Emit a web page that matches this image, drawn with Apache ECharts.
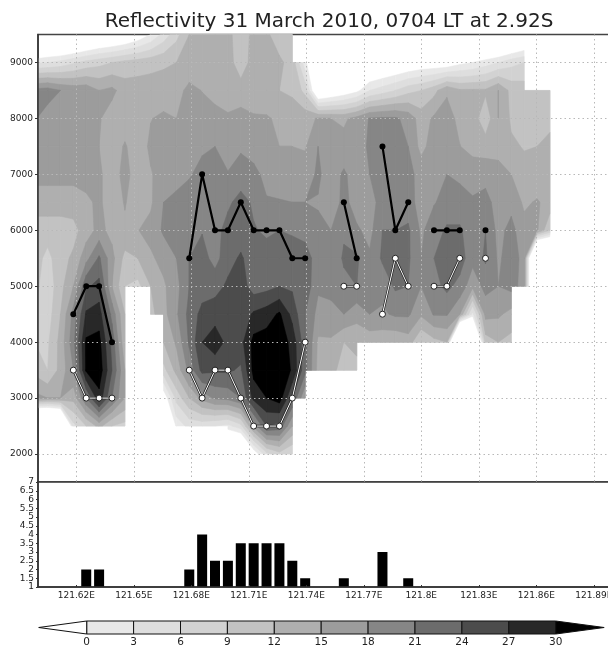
<!DOCTYPE html>
<html><head><meta charset="utf-8">
<style>html,body{margin:0;padding:0;background:#fff}#c{width:608px;height:653px}</style>
<script src="https://cdn.jsdelivr.net/npm/echarts@6/dist/echarts.min.js"></script>
</head><body><div id="c"></div>
<script>
const titleText = 'Reflectivity 31 March 2010, 0704 LT at 2.92S';
const columnLons = [121.59828,121.6050,121.61172,
 121.61844,121.62516,121.63188,121.6386,121.64532,121.65204,121.65876,121.66548,121.6722,121.67892,
 121.68564,121.69236,121.69908,121.7058,121.71252,121.71924,121.72596,121.73268,121.7394,121.74612,
 121.75284,121.75956,121.76628,121.773,121.77972,121.78644,121.79316,121.79988,121.8066,121.81332,
 121.82004,121.82676,121.83348,121.8402,121.84692,121.85364,121.86036,121.86708];
const heights = [2000,2500,3000,3500,4000,4500,5000,5500,6000,6500,7000,7500,8000,8500,9000,9500];
const n = null;
const z9500 = [-17,-13,-13, -12,-10,-8,-7,-5.5,-3,0,4,8,12, 13,13,13,10,13,12.5,10.5,10,n,n, n,n,-10,-10,-10,-10,-10,-10,-10,-10, -10,-10,-14,-13,-11,-8,n,n];
const z9000 = [2.5,3,4, 5.5,7,8,9,10,10.5,11,11.5,12,12.5, 13.5,13.5,13.5,10,13.5,13.5,12.5,11,1,-8, -8,-8,-8,-7,-6,-5,-4,-3,-3,-3, -1,0,1.5,3,5,6,n,n];
const z8500 = [19,19.5,18, 17,17,15,15.8,13.5,13.5,13.5,13.5,13.7,16, 14.9,13.5,13.5,13.5,13,13,12,11.5,8,-7, -5,-3,-1,3,4.5,6,8,9,11,14.5, 12.5,12.5,12.5,15,11,10.5,10,11];
const z8000 = [18.3,16.5,16.5, 16.5,16.5,15.3,13.5,13.5,13.5,14.9,15.5,15,16.5, 16.5,16.5,15.4,16,15.4,15.3,14.5,13.5,13.8,15.3, 15,14.5,16,18.2,18.5,18.5,17,13.5,15.5,16.5, 14,13.5,10,15,11.5,10.5,10.5,11.5];
const z7500 = [16.5,16.5,16.5, 16.5,16.5,15,13.5,15.3,13.5,15.5,16.5,16.5,16.7, 17.5,18,16.5,17.5,16.5,15.8,15,15,14.7,18, 16,16,16.5,18.5,19,19,18,14,16.5,16.5, 15.1,13.8,13.5,13.5,12.5,11.8,12,12.5];
const z7000 = [16,16,16, 16,16,15.5,13.5,16,13.5,14.8,16,17,17.7, 19,19.5,18.2,19.5,19,17,16.5,16.5,16.5,18.5, 16.5,18.5,16.5,18,19.5,20,19,16.8,17.5,18, 17.5,17,17,16.5,15,13,13,13.5];
const z6500 = [13.5,13.5,13.5, 13.5,14.5,15.5,13.5,15.2,13.5,14.5,18,18.7,19.5, 20,19.5,20.5,22,20.6,18.3,18.2,18,18,17.8, 15.8,19,16.5,16.5,19.5,20,19.5,16.5,17.8,19, 19,18.3,19,16.8,17,14.5,15.3,14];
const z6000 = [10.5,10.5,10.5, 11,13.5,16,14,14.5,14.9,16,18.5,19.5,20, 20.8,20,22,22.5,21.2,20.6,21,20.5,19.5,18.5, 18,20.5,18.5,17,21,21,21.5,17.5,19.5,21.5, 21.5,19,21,17,19,16,15.5,9];
const z5500 = [10.5,8,11, 12.5,17,21.5,16,11,12,14.5,16,18,21, 22.3,19.8,23,24.4,22.5,22,23,23,23,19, 18.5,21.5,21.5,18.5,21.5,22.5,21.5,18,21,22.5, 22.5,19,21.5,17.5,19.5,17,-30,-30];
const z5000 = [10,7,11, 15,23.5,25,15,9,8,12,14.5,17,21, 22.5,23,24.5,25.5,22.5,23,24,23.5,23,18.5, 18.5,20,21,18.5,19,21.5,21,18,20,21.8, 20,16,19,18,19,17,-30,-30];
const z4500 = [9,7.5,12, 19,27.5,28.5,20,12,n,11,14,17.5,22, 25,25.5,25.5,25,27.5,28.5,30.5,26,21,17, 17.5,18,16,18,17.5,18.5,18.5,15.5,18.3,18.3, 15,2,16,15.5,14,n,n,n];
const z4000 = [9,8.5,13, 20,30.5,31,23,12.5,n,n,12,15.5,21.5, 27,29,26,26,31,31.5,32,29,22,14.5, 14.5,12,13,13,13,12.5,13.5,9,11,12, -40,-25,10.5,12,11,n,n,n];
const z3500 = [11,9,13, 18,30.5,32,24,15,n,n,8,13,19, 25,24.5,24.5,23.5,31,33,33,29.5,22,14, 13.5,10,11,n,n,n,n,n,n,n, n,n,n,n,n,n,n,n];
const z3000 = [16,15,15, 13,21,29,21,15,n,n,-3,7,12, 16,18.5,19,21,28,30,31.5,24,15,n, n,n,n,n,n,n,n,n,n,n, n,n,n,n,n,n,n,n];
const z2500 = [-30,-30,-25, 5,9,13,9,8,n,n,-20,1,4, 4,3,2,5,16,24,23,15,n,n, n,n,n,n,n,n,n,n,n,n, n,n,n,n,n,n,n,n];
const z2000 = [n,n,n, n,n,n,n,n,n,n,n,n,n, n,n,-15,-15,-3,5,8,6,n,n, n,n,n,n,n,n,n,n,n,n, n,n,n,n,n,n,n,n];
const reflectivity = [z2000,z2500,z3000,z3500,z4000,z4500,z5000,z5500,z6000,z6500,z7000,z7500,z8000,z8500,z9000,z9500];

const levels = [0,3,6,9,12,15,18,21,24,27,30];
const levelGrays = ['#e8e8e8','#dedede','#d2d2d2','#c2c2c2','#afafaf','#9c9c9c','#868686','#6c6c6c','#4c4c4c','#282828','#000000'];

const topTrack = [[121.61844,4500],[121.62516,5000],[121.63188,5000],[121.6386,4000],[n,n],
 [121.67892,5500],[121.68564,7000],[121.69236,6000],[121.69908,6000],[121.7058,6500],[121.71252,6000],[121.71924,6000],[121.72596,6000],[121.73268,5500],[121.7394,5500],[n,n],
 [121.75956,6500],[121.76628,5500],[n,n],
 [121.77972,7500],[121.78644,6000],[121.79316,6500],[n,n],
 [121.8066,6000],[121.81332,6000],[121.82004,6000],[n,n],[121.83348,6000]];
const baseTrack = [[121.61844,3500],[121.62516,3000],[121.63188,3000],[121.6386,3000],[n,n],
 [121.67892,3500],[121.68564,3000],[121.69236,3500],[121.69908,3500],[121.7058,3000],[121.71252,2500],[121.71924,2500],[121.72596,2500],[121.73268,3000],[121.7394,4000],[n,n],
 [121.75956,5000],[121.76628,5000],[n,n],
 [121.77972,4500],[121.78644,5500],[121.79316,5000],[n,n],
 [121.8066,5000],[121.81332,5000],[121.82004,5500],[n,n],[121.83348,5500]];
const barValues = [[121.62516,2],[121.63188,2],[121.67892,2],[121.68564,4],[121.69236,2.5],[121.69908,2.5],[121.7058,3.5],[121.71252,3.5],[121.71924,3.5],[121.72596,3.5],[121.73268,2.5],[121.7394,1.5],[121.75956,1.5],[121.77972,3],[121.79316,1.5]];
const lonTicks = [121.62,121.65,121.68,121.71,121.74,121.77,121.8,121.83,121.86,121.89];
const heightTicks = [2000,3000,4000,5000,6000,7000,8000,9000];
const countLabelsMain = [1,2,2.5,3,3.5,4,4.5,5,5.5,6,7];
const countLabelsExtra = [1.5,6.5];
const lonMin = 121.6, lonMax = 121.9;

const TXT = '#222';
const FONT = '"DejaVu Sans"';

function clipCell(corners, level){
  const out = [];
  for (let k=0;k<4;k++){
    const a = corners[k], b = corners[(k+1)%4];
    if (a[2] >= level) out.push([a[0],a[1]]);
    if ((a[2] >= level) !== (b[2] >= level)){
      const t = (level-a[2])/(b[2]-a[2]);
      out.push([a[0]+t*(b[0]-a[0]), a[1]+t*(b[1]-a[1])]);
    }
  }
  return out;
}
const contourPolys = [];
levels.forEach((lv,li)=>{
  for (let r=0;r<heights.length-1;r++) for (let c=0;c<columnLons.length-1;c++){
    const v=[reflectivity[r][c],reflectivity[r][c+1],reflectivity[r+1][c+1],reflectivity[r+1][c]];
    if (v.some(x=>x===null)) continue;
    const corners=[[columnLons[c],heights[r],v[0]],[columnLons[c+1],heights[r],v[1]],[columnLons[c+1],heights[r+1],v[2]],[columnLons[c],heights[r+1],v[3]]];
    const p=clipCell(corners,lv);
    if (p.length>2) contourPolys.push({li,p});
  }
});

const gridLine = {show:true,lineStyle:{color:'#b8b8b8',width:1,type:[1.5,3]}};
const dark = {lineStyle:{color:'#333',width:1.5}};
const noBounds = {outerBoundsMode:'none'};

const option = {
  animation:false,
  backgroundColor:'#fff',
  title:{text:titleText,left:324,top:7,textAlign:'center',textStyle:{fontFamily:FONT,fontSize:20,fontWeight:'normal',color:'#222'}},
  grid:[
    {left:38,top:34.5,width:575,height:447.5,show:true,borderColor:'#444',borderWidth:1.5,backgroundColor:'#fff',...noBounds},
    {left:38,top:482,width:575,height:105,show:true,borderColor:'#333',borderWidth:1.5,backgroundColor:'#fff',...noBounds},
    {left:86.7,top:621,width:469,height:13,...noBounds}
  ],
  xAxis:[
    {type:'value',gridIndex:0,min:lonMin,max:lonMax,z:5,axisLine:{show:false},
      axisTick:{show:false,customValues:lonTicks},axisLabel:{show:false,customValues:lonTicks},splitLine:gridLine},
    {type:'value',gridIndex:1,min:lonMin,max:lonMax,z:5,axisLine:{show:true,...dark},splitLine:{show:false},
      axisTick:{show:true,inside:true,length:2,customValues:lonTicks,lineStyle:{color:'#333'}},
      axisLabel:{show:true,customValues:lonTicks,margin:4,hideOverlap:false,fontFamily:FONT,fontSize:9,color:TXT,formatter:v=>v+'E'}},
    {type:'value',gridIndex:2,min:0,max:30,interval:3,axisLine:{show:false},axisTick:{show:false},splitLine:{show:false},
      axisLabel:{show:true,margin:3,fontFamily:FONT,fontSize:10.5,color:TXT}}
  ],
  yAxis:[
    {type:'value',gridIndex:0,min:1500,max:9500,z:5,axisLine:{show:true,...dark},
      axisTick:{show:true,length:3,customValues:heightTicks,lineStyle:{color:'#333'}},
      axisLabel:{show:true,customValues:heightTicks,margin:5,fontFamily:FONT,fontSize:9,color:TXT,formatter:v=>String(v)},splitLine:gridLine},
    {type:'value',gridIndex:1,min:1,max:7,interval:0.5,z:5,axisLine:{show:true,...dark},splitLine:{show:false},
      axisTick:{show:true,length:2,lineStyle:{color:'#333'}},
      axisLabel:{show:true,customValues:countLabelsMain,margin:4,hideOverlap:false,fontFamily:FONT,fontSize:9,color:TXT,formatter:v=>String(v)}},
    {type:'value',gridIndex:2,min:0,max:1,show:false},
    {type:'value',gridIndex:1,min:1,max:7,z:5,position:'left',axisLine:{show:false},axisTick:{show:false},splitLine:{show:false},
      axisLabel:{show:true,customValues:countLabelsExtra,margin:4,hideOverlap:false,fontFamily:FONT,fontSize:9,color:TXT,formatter:v=>String(v)}}
  ],
  series:[
    {type:'custom',xAxisIndex:0,yAxisIndex:0,z:2,silent:true,clip:true,progressive:0,
      data:contourPolys.map((q,i)=>[q.p[0][0],q.p[0][1],i]),encode:{x:0,y:1},
      renderItem(params,api){
        const q=contourPolys[api.value(2)];
        const col=levelGrays[q.li];
        return {type:'polygon',shape:{points:q.p.map(pt=>api.coord(pt))},style:{fill:col,stroke:col,lineWidth:0.5}};
      }},
    {type:'line',name:'Top',xAxisIndex:0,yAxisIndex:0,z:10,data:topTrack,connectNulls:false,symbol:'circle',symbolSize:6,silent:true,
      lineStyle:{color:'#000',width:2.2},itemStyle:{color:'#000'}},
    {type:'line',name:'Base edge',xAxisIndex:0,yAxisIndex:0,z:10,data:baseTrack,connectNulls:false,symbol:'none',silent:true,
      lineStyle:{color:'#222',width:2.4}},
    {type:'line',name:'Base',xAxisIndex:0,yAxisIndex:0,z:11,data:baseTrack,connectNulls:false,symbol:'circle',symbolSize:6,silent:true,
      lineStyle:{color:'#fff',width:1},itemStyle:{color:'#fff',borderColor:'#222',borderWidth:1}},
    {type:'bar',xAxisIndex:1,yAxisIndex:1,data:barValues,barWidth:10,silent:true,itemStyle:{color:'#000'}},
    {type:'custom',xAxisIndex:2,yAxisIndex:2,clip:false,silent:true,z:3,
      data:levels.slice(0,-1).map((lv,i)=>[lv,levels[i+1],i]),encode:{x:[0,1]},
      renderItem(params,api){
        const a=api.coord([api.value(0),0]),b=api.coord([api.value(1),1]);
        return {type:'rect',shape:{x:a[0],y:b[1],width:b[0]-a[0],height:a[1]-b[1]},style:{fill:levelGrays[api.value(2)],stroke:'#111',lineWidth:1}};
      }},
    {type:'custom',xAxisIndex:2,yAxisIndex:2,clip:false,silent:true,z:3,
      data:[[-3.07,0,0.5,'#fff'],[33.1,30,0.5,'#000']],encode:{x:[0,1]},
      renderItem(params,api){
        const tip=api.coord([api.value(0),api.value(2)]);
        const b0=api.coord([api.value(1),0]),b1=api.coord([api.value(1),1]);
        return {type:'polygon',shape:{points:[tip,b0,b1]},style:{fill:api.value(3),stroke:'#111',lineWidth:1}};
      }}
  ]
};
const chart = echarts.init(document.getElementById('c'),null,{renderer:'canvas'});
chart.setOption(option);
</script></body></html>
